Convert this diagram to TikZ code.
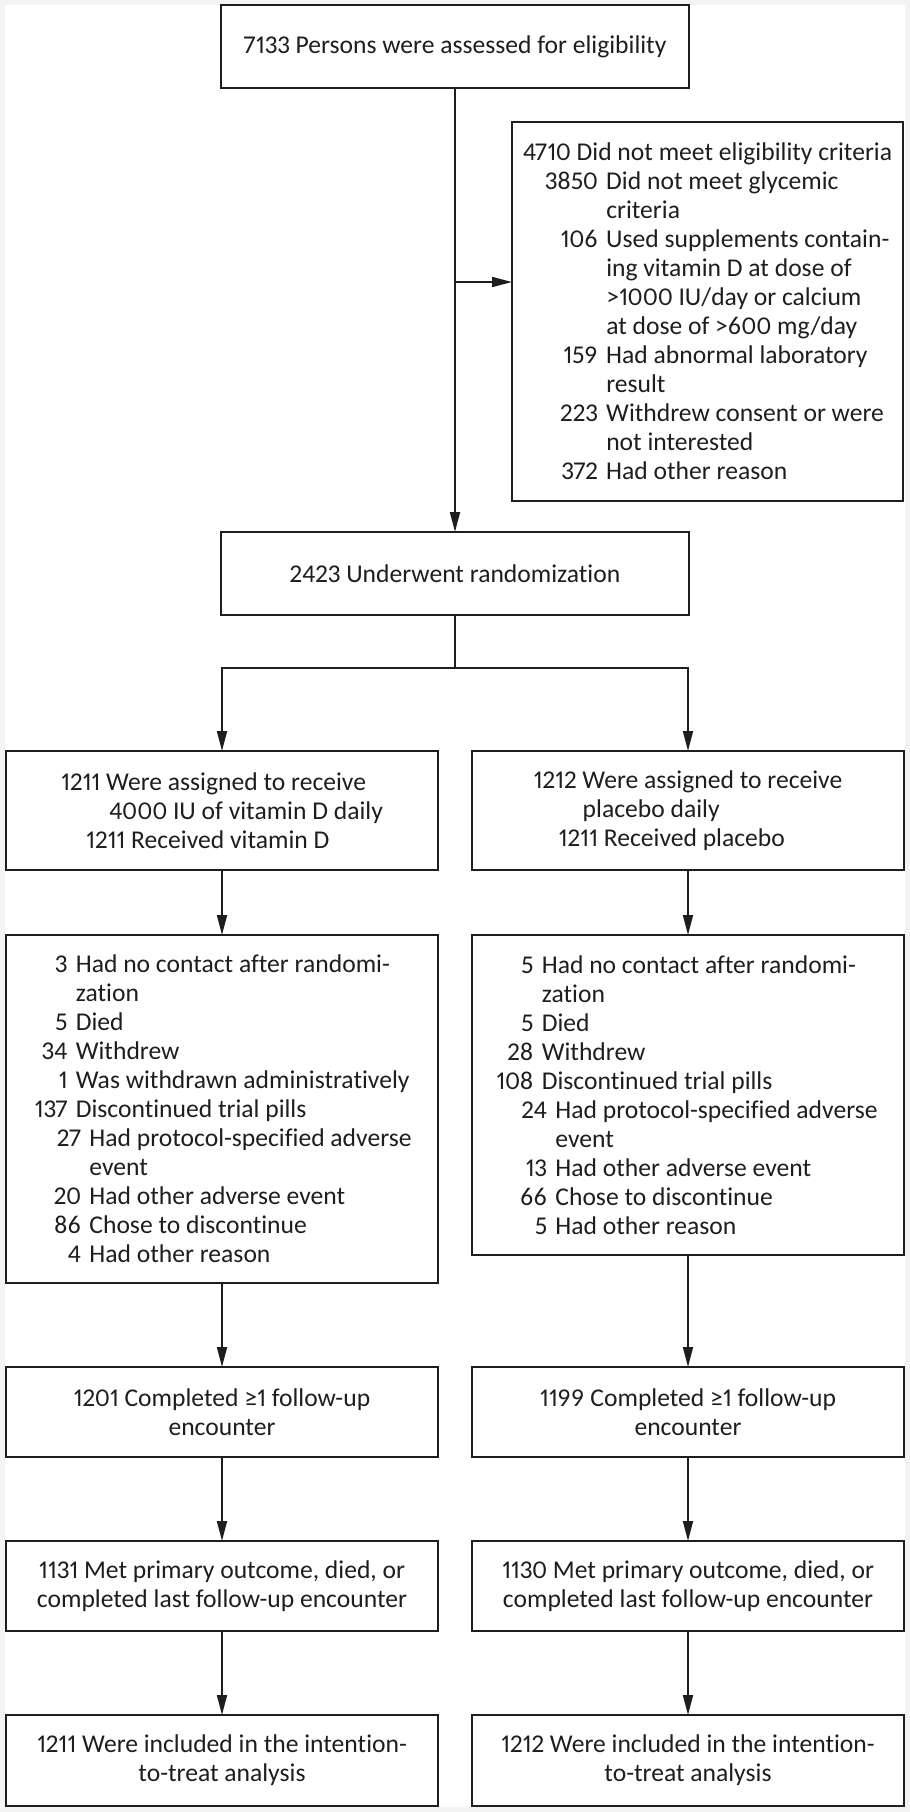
\documentclass[tikz,border=0pt]{standalone}
\usepackage{fontspec}
\setmainfont{Carlito}[Numbers=Proportional,Ligatures=NoCommon]
\usepackage{tikz}
\usetikzlibrary{positioning}
\usetikzlibrary{arrows.meta}

\definecolor{pagegrey}{RGB}{243,243,243}
\definecolor{ink}{RGB}{30,30,30}

\newcommand{\cnt}[2]{\makebox[#1][r]{#2}\hspace{4.2pt}}

\begin{document}
\begin{tikzpicture}[>={Triangle[length=10pt,width=5pt]},node distance=42pt,line width=0.9pt,
	box/.style={draw=ink,line width=0.9pt,inner sep=0pt,outer sep=0pt,align=center,text=ink,font=\fontsize{12.8pt}{14.5pt}\selectfont},
	wide/.style={box,minimum width=234pt,minimum height=41.5pt},
	col/.style={box,minimum width=216pt},
	list/.style={col,align=left},
	arr/.style={->,draw=ink}]
				\fill[pagegrey] (0,0) rectangle (455pt,-906pt);
				\fill[white] (2.5pt,-2.5pt) rectangle (452.5pt,-903.5pt);
				\useasboundingbox (0,0) rectangle (455pt,-906pt);

				\node[wide] (0) at (227.5pt,-23.25pt) {7133 Persons were assessed for eligibility};
				\node[box,align=left,minimum width=195.5pt,minimum height=189.5pt] (1) at (353.75pt,-155.75pt) {4710 Did not meet eligibility criteria\\
					\cnt{37.5pt}{3850}Did not meet glycemic\\
					\cnt{37.5pt}{}criteria\\
					\cnt{37.5pt}{106}Used supplements contain-\\
					\cnt{37.5pt}{}ing vitamin D at dose of\\
					\cnt{37.5pt}{}>1000 IU/day or calcium\\
					\cnt{37.5pt}{}at dose of >600 mg/day\\
					\cnt{37.5pt}{159}Had abnormal laboratory\\
					\cnt{37.5pt}{}result\\
					\cnt{37.5pt}{223}Withdrew consent or were\\
					\cnt{37.5pt}{}not interested\\
					\cnt{37.5pt}{372}Had other reason};
				\node[wide, below=222pt of 0] (2) {2423 Underwent randomization};

				\node[list, minimum height=59.5pt] (3) at (111pt,-405.25pt) {1211 Were assigned to receive\\
					\hspace*{24pt}4000 IU of vitamin D daily\\
					\hspace*{12.5pt}1211 Received vitamin D};
				\node[list, minimum height=59.5pt, right=17pt of 3] (4) {1212 Were assigned to receive\\
					\hspace*{24.5pt}placebo daily\\
					\hspace*{12.5pt}1211 Received placebo};

				\node[list, minimum height=174pt, below=32.5pt of 3] (5) {\cnt{17.5pt}{3}Had no contact after randomi-\\
					\cnt{17.5pt}{}zation\\
					\cnt{17.5pt}{5}Died\\
					\cnt{17.5pt}{34}Withdrew\\
					\cnt{17.5pt}{1}Was withdrawn administratively\\
					\cnt{17.5pt}{137}Discontinued trial pills\\
					\cnt{24.3pt}{27}Had protocol-specified adverse\\
					\cnt{24.3pt}{}event\\
					\cnt{24.3pt}{20}Had other adverse event\\
					\cnt{24.3pt}{86}Chose to discontinue\\
					\cnt{24.3pt}{4}Had other reason};
				\node[list, minimum height=160pt, below=32.5pt of 4] (6) {\cnt{17.5pt}{5}Had no contact after randomi-\\
					\cnt{17.5pt}{}zation\\
					\cnt{17.5pt}{5}Died\\
					\cnt{17.5pt}{28}Withdrew\\
					\cnt{17.5pt}{108}Discontinued trial pills\\
					\cnt{24.3pt}{24}Had protocol-specified adverse\\
					\cnt{24.3pt}{}event\\
					\cnt{24.3pt}{13}Had other adverse event\\
					\cnt{24.3pt}{66}Chose to discontinue\\
					\cnt{24.3pt}{5}Had other reason};

				\node[col, minimum height=45pt, below=of 5] (7) {1201 Completed ≥1 follow-up\\encounter};
				\node[col, minimum height=45pt, right=17pt of 7] (8) {1199 Completed ≥1 follow-up\\encounter};
				\node[col, minimum height=45pt, below=of 7] (9) {1131 Met primary outcome, died, or\\completed last follow-up encounter};
				\node[col, minimum height=45pt, right=17pt of 9] (10) {1130 Met primary outcome, died, or\\completed last follow-up encounter};
				\node[col, minimum height=45.5pt, below=of 9] (11) {1211 Were included in the intention-\\to-treat analysis};
				\node[col, minimum height=45.5pt, right=17pt of 11] (12) {1212 Were included in the intention-\\to-treat analysis};

				\coordinate (s) at (227.5pt,-141pt);
				\coordinate (b) at (227.5pt,-334pt);

				\draw[arr] (0) -- (2);
				\draw[arr] (s) -- (s -| 1.west);
				\draw[ink] (2) -- (b);
				\draw[arr] (b) -| (3);
				\draw[arr] (b) -| (4);

				\draw[arr] (3) -- (5);
				\draw[arr] (5) -- (7);
				\draw[arr] (7) -- (9);
				\draw[arr] (9) -- (11);
				\draw[arr] (4) -- (6);
				\draw[arr] (6) -- (8);
				\draw[arr] (8) -- (10);
				\draw[arr] (10) -- (12);
\end{tikzpicture}
\end{document}
